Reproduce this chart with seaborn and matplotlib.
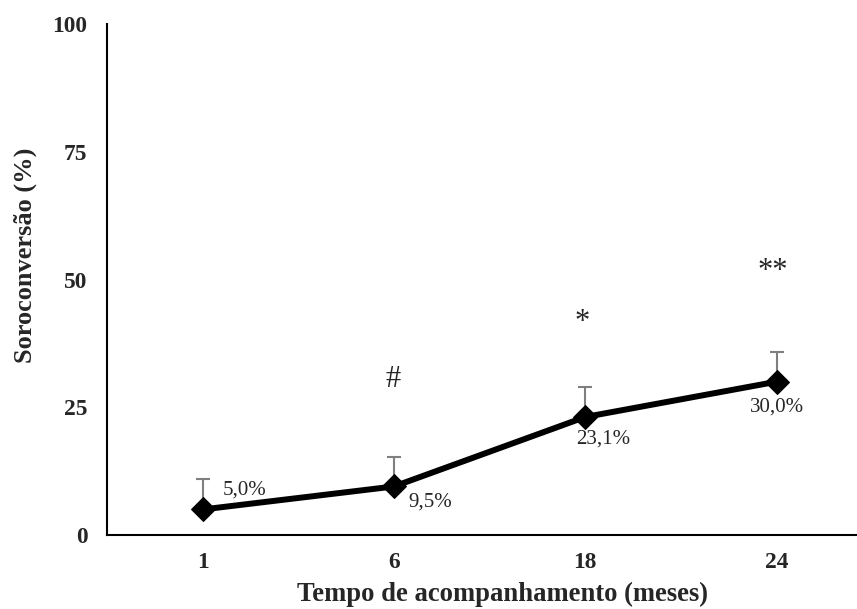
import pandas as pd
import matplotlib.pyplot as plt
import seaborn as sns

# Data
meses = ["1", "6", "18", "24"]
soroconversao = [5.0, 9.5, 23.1, 30.0]
erro = [5.9, 5.8, 5.8, 5.8]
rotulos = ["5,0%", "9,5%", "23,1%", "30,0%"]
marcas = ["", "#", "*", "**"]
marca_y = [0, 30.5, 41.5, 51.5]

sns.set_theme(style="white")
plt.rcParams['font.family'] = ['Liberation Serif', 'DejaVu Serif']

df = pd.DataFrame({'mes': meses, 'soro': soroconversao, 'erro': erro})

fig = plt.figure(figsize=(8.57, 6.09), dpi=100)
ax = fig.add_axes([0.1249, 0.1215, 0.875, 0.839])

# upward-only error bars
ax.errorbar(df['mes'], df['soro'], yerr=[[0] * len(df), df['erro']],
            fmt='none', ecolor='#7f7f7f', elinewidth=1.5, capsize=5,
            capthick=1.5, zorder=1)

sns.lineplot(data=df, x='mes', y='soro', sort=False, color='black',
             linewidth=4.3, marker='D', markersize=12, markeredgecolor='black',
             ax=ax, zorder=3)

# value labels
offsets = [(30, 14), (26, -11), (13, -16), (0, -18)]
for i, (lab, off) in enumerate(zip(rotulos, offsets)):
    ax.annotate(lab, (i, soroconversao[i]), xytext=off, textcoords='offset points',
                ha='center', va='center', fontsize=15)

# significance marks (asterisks sit a little left of the point)
for i, m in enumerate(marcas):
    if m:
        dx = -2.5 if '*' in m else -0.5
        ax.annotate(m, (i, marca_y[i]), xytext=(dx, 0), textcoords='offset points',
                    ha='center', va='center', fontsize=22)

ax.set_xlim(-0.5, 3.42)
ax.set_ylim(0, 100)
ax.set_yticks([0, 25, 50, 75, 100])
ax.tick_params(axis='both', length=0, labelsize=16.8)
ax.tick_params(axis='y', pad=14)
ax.tick_params(axis='x', pad=12)
for lab in ax.get_xticklabels() + ax.get_yticklabels():
    lab.set_fontweight('bold')

ax.set_xlabel('Tempo de acompanhamento (meses)', fontsize=19.2, fontweight='bold')
ax.set_ylabel('Soroconversão (%)', fontsize=19, fontweight='bold')
ax.xaxis.set_label_coords(0.527, -0.092)
ax.yaxis.set_label_coords(-0.093, 0.548)

sns.despine(ax=ax)
for s in ['left', 'bottom']:
    ax.spines[s].set_color('black')
    ax.spines[s].set_linewidth(1.5)

fig.savefig('out.png', dpi=100)
